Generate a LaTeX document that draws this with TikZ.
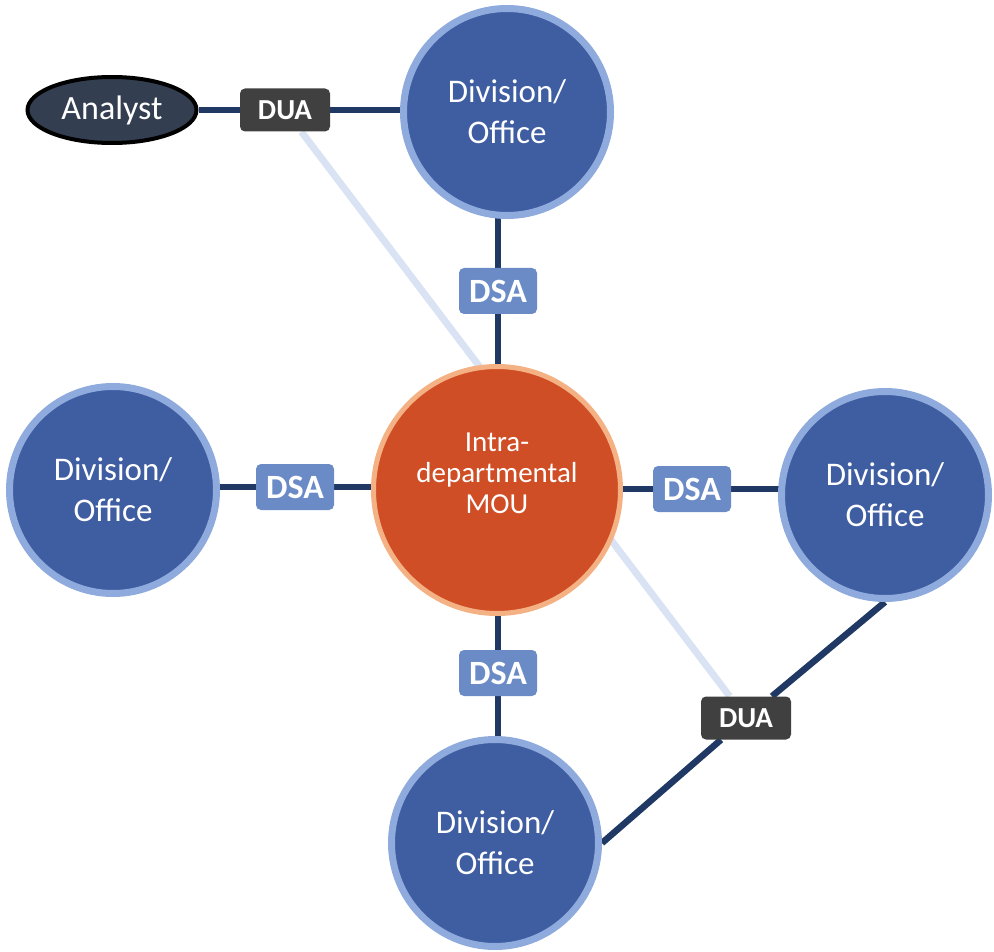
\documentclass[tikz,border=0pt]{standalone}
\usepackage{fontspec}
\setmainfont{Carlito}
\usetikzlibrary{shapes.geometric,backgrounds}

\definecolor{divfill}{HTML}{3F5DA1}
\definecolor{divedge}{HTML}{8FAADC}
\definecolor{moufill}{HTML}{D04E26}
\definecolor{mouedge}{HTML}{F4B183}
\definecolor{linknavy}{HTML}{203864}
\definecolor{linkpale}{HTML}{DAE3F3}
\definecolor{dsafill}{HTML}{6A8BC6}
\definecolor{duafill}{HTML}{404040}
\definecolor{analystfill}{HTML}{333F50}

\tikzset{
  division/.style={circle, fill=divfill, draw=divedge, line width=7pt,
    minimum size=207pt, inner sep=0pt, text=white, align=center,
    font=\fontsize{33}{41}\selectfont},
  mou/.style={circle, fill=moufill, draw=mouedge, line width=5pt,
    minimum size=247pt, inner sep=0pt},
  moutext/.style={text=white, align=center, inner sep=0pt,
    font=\fontsize{29}{31}\selectfont},
  analyst/.style={ellipse, fill=analystfill, draw=black, line width=4pt,
    minimum width=169pt, minimum height=66pt, inner sep=0pt, text=white,
    font=\fontsize{34}{40}\selectfont},
  dsatag/.style={rectangle, rounded corners=5pt, fill=dsafill,
    minimum width=78pt, minimum height=46pt, inner sep=0pt, text=white,
    font=\bfseries\fontsize{34}{40}\selectfont},
  duatag/.style={rectangle, rounded corners=5pt, fill=duafill,
    minimum width=90pt, minimum height=43pt, inner sep=0pt, text=white,
    font=\bfseries\fontsize{29}{34}\selectfont},
  navylink/.style={draw=linknavy, line width=6.5pt},
  palelink/.style={draw=linkpale, line width=7pt},
}

\begin{document}
\begin{tikzpicture}[x=1pt,y=-1pt]
  \useasboundingbox (0,0) rectangle (994,952);

  % hub and the four divisions
  \node[mou] (hub) at (497,490) {};
  \node[moutext] (hubtext) at (497,473) {Intra-\\departmental\\MOU};
  \node[division] (divT) at (507,112) {Division/\\Office};
  \node[division] (divL) at (113,490) {Division/\\Office};
  \node[division] (divR) at (885,495) {Division/\\Office};
  \node[division] (divB) at (495,843) {Division/\\Office};

  % analyst
  \node[analyst] (analyst) at (112,110) {Analyst};

  % agreement tags
  \node[duatag] (duaT) at (285,110) {DUA};
  \node[dsatag] (dsaT) at (498,291) {DSA};
  \node[dsatag] (dsaL) at (295,487) {DSA};
  \node[dsatag] (dsaR) at (692,489) {DSA};
  \node[dsatag] (dsaB) at (498,673) {DSA};
  \node[duatag] (duaB) at (746,718) {DUA};

  \begin{pgfonlayer}{background}
    % pale link between the two DUAs, behind the hub
    \path[palelink] (duaT) -- (duaB);
    % analyst to division through the DUA
    \path[navylink] (analyst) -- (duaT) -- (duaT -| divT.center);
    % DSA spokes
    \path[navylink] (dsaT |- divT.center) -- (dsaT) -- (dsaT |- hub.center);
    \path[navylink] (dsaL -| divL.center) -- (dsaL) -- (dsaL -| hub.center);
    \path[navylink] (dsaR -| hub.center) -- (dsaR) -- (dsaR -| divR.center);
    \path[navylink] (dsaB |- hub.center) -- (dsaB) -- (dsaB |- divB.center);
    % division to division through the DUA
    \path[navylink] (divR.south) -- (duaB) -- (divB.east);
  \end{pgfonlayer}
\end{tikzpicture}
\end{document}
